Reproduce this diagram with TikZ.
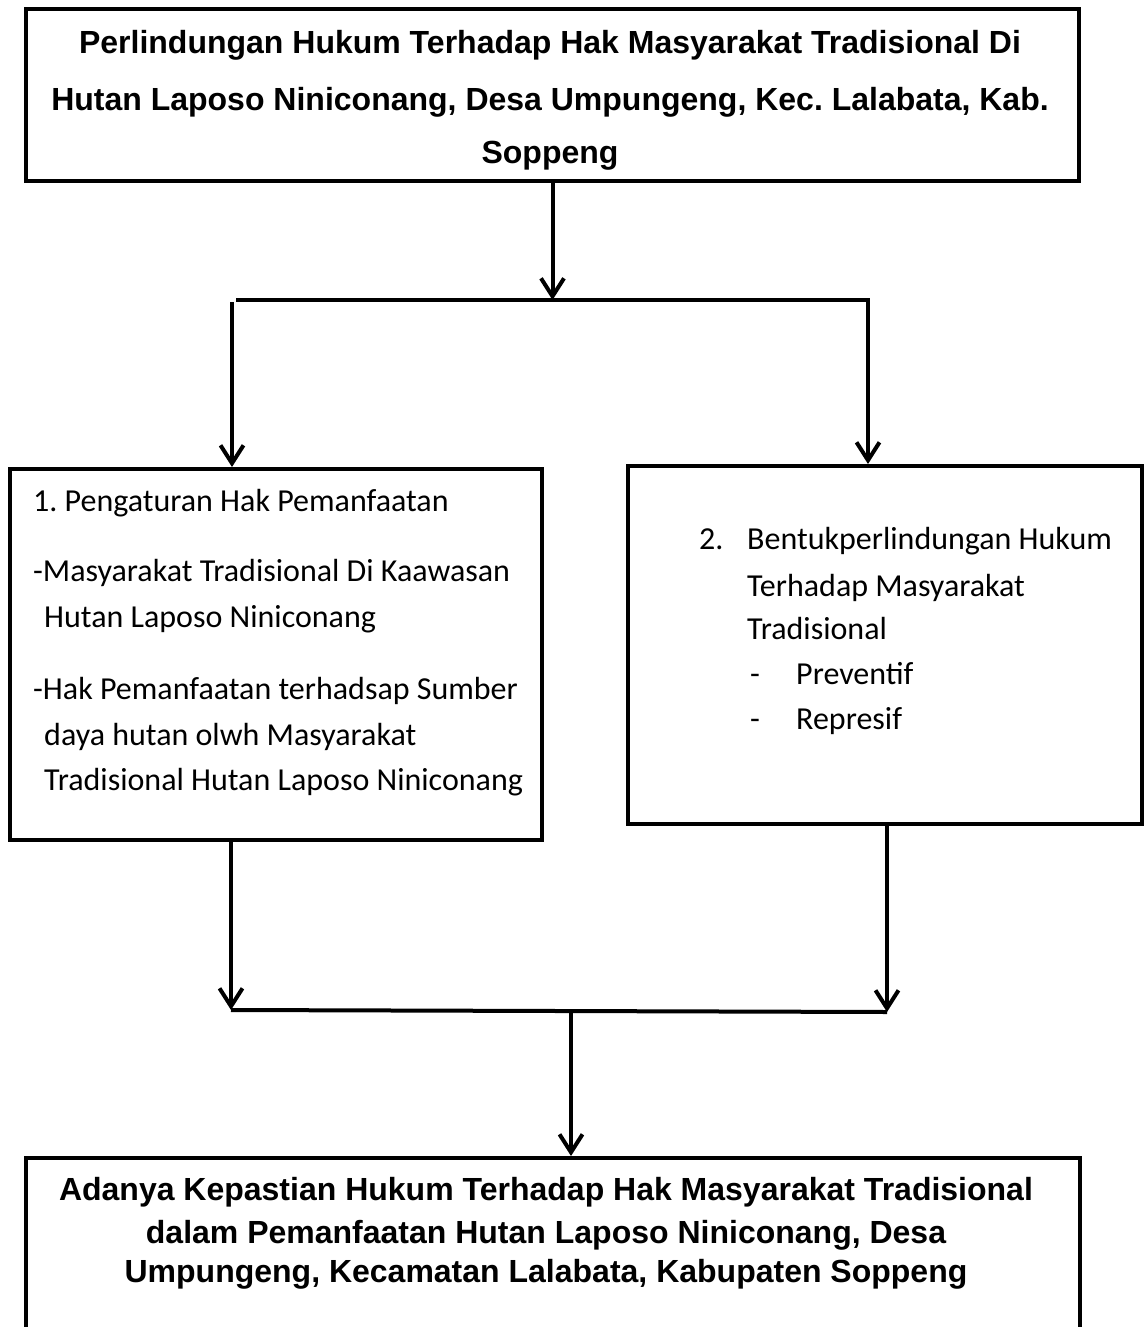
\documentclass[tikz,border=0pt]{standalone}
\usepackage{fontspec}
\setmainfont{Carlito}
\newfontfamily\hdrfont{Liberation Sans}
\usetikzlibrary{arrows.meta}
\frenchspacing
\tikzset{
  box/.style={draw, line width=4pt, rectangle, inner sep=0pt},
  conn/.style={line width=4pt},
  arr/.style={line width=4pt, -{Straight Barb[length=18pt,width=23pt]}},
  hdr/.style={inner sep=0pt, anchor=base, font=\frenchspacing\hdrfont\bfseries\fontsize{32}{38}\selectfont},
  txt/.style={inner sep=0pt, anchor=base west, font=\frenchspacing\fontsize{32}{38}\selectfont},
}
\begin{document}
\begin{tikzpicture}[x=1pt,y=-1pt]
\clip (0,0) rectangle (1145,1327);
\fill[white] (0,0) rectangle (1145,1327);

% boxes
\node[box, minimum width=1053pt, minimum height=172pt] (top) at (552.5,95) {};
\node[box, minimum width=532pt, minimum height=371pt] (lbox) at (276,654.5) {};
\node[box, minimum width=514pt, minimum height=358pt] (rbox) at (885,645) {};
\node[box, minimum width=1054pt, minimum height=260pt] (bot) at (553,1288) {};

% top text
\node[hdr] (t1) at (550,54) {Perlindungan Hukum Terhadap Hak Masyarakat Tradisional Di};
\node[hdr] (t2) at (550,111) {Hutan Laposo Niniconang, Desa Umpungeng, Kec. Lalabata, Kab.};
\node[hdr] (t3) at (550,164) {Soppeng};

% left box text
\node[txt] (l1) at (33,511) {1. Pengaturan Hak Pemanfaatan};
\node[txt] (l2) at (33,581) {-Masyarakat Tradisional Di Kaawasan};
\node[txt] (l3) at (44,627) {Hutan Laposo Niniconang};
\node[txt] (l4) at (33,699) {-Hak Pemanfaatan terhadsap Sumber};
\node[txt] (l5) at (44,745) {daya hutan olwh Masyarakat};
\node[txt] (l6) at (44,790) {Tradisional Hutan Laposo Niniconang};

% right box text
\node[txt] (rn) at (699,549) {2.};
\node[txt] (r1) at (747,549) {Bentukperlindungan Hukum};
\node[txt] (r2) at (747,596) {Terhadap Masyarakat};
\node[txt] (r3) at (747,639) {Tradisional};
\node[txt] (rd1) at (750,684) {-};
\node[txt] (r4) at (796,684) {Preventif};
\node[txt] (rd2) at (750,729) {-};
\node[txt] (r5) at (796,729) {Represif};

% bottom text
\node[hdr] (b1) at (546,1200) {Adanya Kepastian Hukum Terhadap Hak Masyarakat Tradisional};
\node[hdr] (b2) at (546,1243) {dalam Pemanfaatan Hutan Laposo Niniconang, Desa};
\node[hdr] (b3) at (546,1282) {Umpungeng, Kecamatan Lalabata, Kabupaten Soppeng};

% connectors
\coordinate (sl) at (236,300);
\coordinate (sr) at (870,300);
\coordinate (dl) at (232,302);
\coordinate (dr) at (868,300);
\draw[arr] (top.south) -- (top.south |- sl);
\draw[conn] (sl) -- (sr);
\draw[arr] (dl) -- (dl |- lbox.north);
\draw[arr] (dr) -- (dr |- rbox.north);

\coordinate (ml) at (231,1010);
\coordinate (mr) at (887,1012);
\coordinate (mc) at (571,1011);
\draw[arr] (lbox.south -| ml) -- (ml);
\draw[arr] (rbox.south -| mr) -- (mr);
\draw[conn] (ml) -- (mr);
\draw[arr] (mc) -- (mc |- bot.north);
\end{tikzpicture}
\end{document}
